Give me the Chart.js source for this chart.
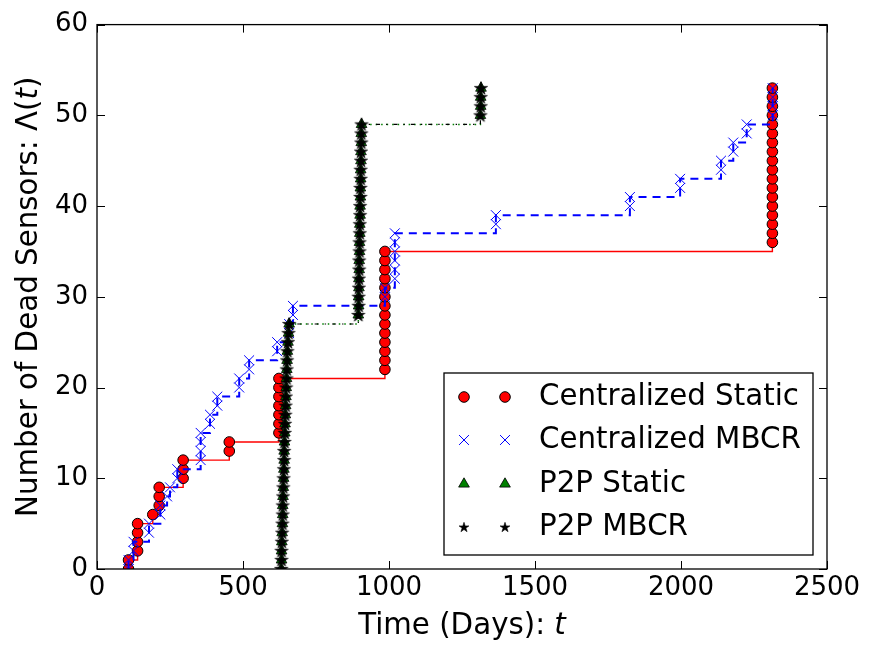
<!DOCTYPE html>
<html>
<head>
<meta charset="utf-8">
<script src="https://cdn.jsdelivr.net/npm/chart.js@4.4.1/dist/chart.umd.min.js"></script>
<style>
  html, body { margin: 0; padding: 0; background: #fff; }
  canvas { display: block; }
</style>
</head>
<body>
<canvas id="deadSensors" width="871" height="648"></canvas>
<script>
// Data
var deadCount = [0, 1, 2, 3, 4, 5, 6, 7, 8, 9, 10, 11, 12, 13, 14, 15, 16, 17,
    18, 19, 20, 21, 22, 23, 24, 25, 26, 27, 28, 29, 30, 31, 32, 33, 34, 35,
    36, 37, 38, 39, 40, 41, 42, 43, 44, 45, 46, 47, 48, 49, 50, 51, 52, 53];

var centralStaticDays = [108, 108, 139, 139, 139, 139, 191, 213, 213, 213,
    295, 295, 295, 453, 453, 623, 623, 623, 623, 623, 623, 623,
    986, 986, 986, 986, 986, 986, 986, 986, 986, 986, 986, 986, 986, 986,
    2313, 2313, 2313, 2313, 2313, 2313, 2313, 2313, 2313, 2313, 2313, 2313,
    2313, 2313, 2313, 2313, 2313, 2313];

var centralMbcrDays = [108, 108, 125, 125, 178, 178, 217, 217, 240, 250,
    275, 275, 355, 355, 355, 355, 387, 387, 412, 412, 487, 487, 521, 521,
    617, 617, 658, 658, 671, 671, 986, 986, 1020, 1020, 1020, 1020, 1020, 1020,
    1366, 1366, 1825, 1825, 1997, 1997, 2137, 2137, 2179, 2179, 2225, 2225,
    2314, 2314, 2314, 2314];

var p2pStaticDays = [631, 632, 632, 633, 634, 635, 636, 636, 637, 638, 639,
    640, 641, 641, 642, 643, 644, 645, 646, 647, 648, 649, 650, 651, 652,
    654, 656, 658,
    895, 896, 896, 897, 897, 898, 898, 899, 899, 900, 900, 901, 901, 902,
    902, 903, 903, 904, 904, 905, 905, 906,
    1313, 1314, 1314, 1315];

var p2pMbcrDays = [631, 632, 632, 633, 634, 635, 636, 636, 637, 638, 639,
    640, 641, 641, 642, 643, 644, 645, 646, 647, 648, 649, 650, 651, 652,
    654, 656, 658,
    895, 896, 896, 897, 897, 898, 898, 899, 899, 900, 900, 901, 901, 902,
    902, 903, 903, 904, 904, 905, 905, 906,
    1313, 1314, 1314, 1315];

var xTickValues = [0, 500, 1000, 1500, 2000, 2500];
var yTickValues = [0, 10, 20, 30, 40, 50, 60];

var seriesNames = ['Centralized Static', 'Centralized MBCR', 'P2P Static', 'P2P MBCR'];

(function() {
    'use strict';

    var FONT = 'DejaVu Sans';

    function toPoints(days) {
        return days.map(function(d, i) { return { x: d, y: deadCount[i] }; });
    }

    // filled five point star like matplotlib '*'
    function makeStar(r) {
        var size = Math.ceil(r) * 2 + 2;
        var c = document.createElement('canvas');
        c.width = size;
        c.height = size;
        var g = c.getContext('2d');
        var cx = size / 2, cy = size / 2 + 0.5, inner = r * 0.382;
        g.beginPath();
        for (var k = 0; k < 10; k++) {
            var rr = k % 2 === 0 ? r : inner;
            var a = -Math.PI / 2 + k * Math.PI / 5;
            var px = cx + rr * Math.cos(a), py = cy + rr * Math.sin(a);
            if (k === 0) g.moveTo(px, py); else g.lineTo(px, py);
        }
        g.closePath();
        g.fillStyle = '#000';
        g.fill();
        g.strokeStyle = '#000';
        g.lineWidth = 0.6;
        g.stroke();
        return c;
    }

    var starPlot = makeStar(7);
    var starLegend = makeStar(5.2);

    var markerStyles = [
        { pointStyle: 'circle', radius: 5.3, fill: '#ff0000', stroke: '#000', width: 1 },
        { pointStyle: 'crossRot', radius: 7, fill: '#0000ff', stroke: '#0000ff', width: 1 },
        { pointStyle: 'triangle', radius: 6.2, fill: '#008000', stroke: '#000', width: 0.8 },
        { pointStyle: starPlot, legendStyle: starLegend, radius: 7, fill: '#000', stroke: '#000', width: 0 }
    ];

    function markerSet(label, days, m, order) {
        return {
            label: label,
            data: toPoints(days),
            showLine: false,
            pointStyle: m.pointStyle,
            pointRadius: m.radius,
            pointBackgroundColor: m.fill,
            pointBorderColor: m.stroke,
            pointBorderWidth: m.width,
            clip: 0,
            order: order
        };
    }

    function stepSet(days, color, width, dash, order) {
        return {
            label: '',
            data: toPoints(days),
            showLine: true,
            stepped: 'before',
            borderColor: color,
            borderWidth: width,
            borderDash: dash,
            pointRadius: 0,
            fill: false,
            clip: 0,
            order: order
        };
    }

    // frame, inward ticks, axis titles and legend
    var decorations = {
        id: 'decorations',
        afterDatasetsDraw: function(chart) {
            var ctx = chart.ctx, a = chart.chartArea;
            var xs = chart.scales.x, ys = chart.scales.y;
            ctx.save();
            ctx.strokeStyle = '#000';
            ctx.lineWidth = 1;
            ctx.beginPath();
            xTickValues.forEach(function(v) {
                var px = Math.round(xs.getPixelForValue(v)) + 0.5;
                ctx.moveTo(px, a.bottom); ctx.lineTo(px, a.bottom - 8);
                ctx.moveTo(px, a.top); ctx.lineTo(px, a.top + 8);
            });
            yTickValues.forEach(function(v) {
                var py = Math.round(ys.getPixelForValue(v)) + 0.5;
                ctx.moveTo(a.left, py); ctx.lineTo(a.left + 8, py);
                ctx.moveTo(a.right, py); ctx.lineTo(a.right - 8, py);
            });
            ctx.stroke();
            ctx.lineWidth = 1.3;
            ctx.strokeRect(a.left, a.top, a.right - a.left, a.bottom - a.top);
            ctx.restore();
        },
        afterDraw: function(chart) {
            var ctx = chart.ctx, a = chart.chartArea;
            ctx.save();
            ctx.fillStyle = '#000';
            ctx.textBaseline = 'middle';

            // x title
            var normal = '29.3px "' + FONT + '"', italic = 'oblique 29.3px "' + FONT + '"';
            ctx.font = normal;
            var s1 = 'Time (Days): ';
            var w1 = ctx.measureText(s1).width;
            ctx.font = italic;
            var w2 = ctx.measureText('t').width;
            var x0 = (a.left + a.right) / 2 - (w1 + w2) / 2;
            ctx.font = normal;
            ctx.textAlign = 'left';
            ctx.fillText(s1, x0, 626);
            ctx.font = italic;
            ctx.fillText('t', x0 + w1, 626);

            // y title, rotated
            ctx.save();
            ctx.translate(29, (a.top + a.bottom) / 2);
            ctx.rotate(-Math.PI / 2);
            var p1 = 'Number of Dead Sensors: \u039B(', p3 = ')';
            ctx.font = normal;
            var q1 = ctx.measureText(p1).width, q3 = ctx.measureText(p3).width;
            ctx.font = italic;
            var q2 = ctx.measureText('t').width;
            var y0 = -(q1 + q2 + q3) / 2;
            ctx.font = normal;
            ctx.fillText(p1, y0, 0);
            ctx.font = italic;
            ctx.fillText('t', y0 + q1, 0);
            ctx.font = normal;
            ctx.fillText(p3, y0 + q1 + q2, 0);
            ctx.restore();

            // legend
            var box = { left: 444, top: 373, right: 813, bottom: 555 };
            ctx.fillStyle = '#fff';
            ctx.fillRect(box.left, box.top, box.right - box.left, box.bottom - box.top);
            ctx.strokeStyle = '#000';
            ctx.lineWidth = 1.3;
            ctx.strokeRect(box.left, box.top, box.right - box.left, box.bottom - box.top);
            var rows = [397, 440, 484, 527];
            seriesNames.forEach(function(name, i) {
                var m = markerStyles[i];
                [464, 505].forEach(function(mx) {
                    ctx.fillStyle = m.fill;
                    ctx.strokeStyle = m.stroke;
                    ctx.lineWidth = m.width;
                    Chart.helpers.drawPoint(ctx, {
                        pointStyle: m.legendStyle || m.pointStyle,
                        radius: m.radius,
                        rotation: 0,
                        borderWidth: m.width
                    }, mx, rows[i]);
                });
                ctx.fillStyle = '#000';
                ctx.font = normal;
                ctx.textAlign = 'left';
                ctx.fillText(name, 539, rows[i]);
            });
            ctx.restore();
        }
    };

    var tickFont = { family: FONT, size: 26 };

    new Chart(document.getElementById('deadSensors'), {
        type: 'scatter',
        data: {
            datasets: [
                stepSet(centralStaticDays, '#ff0000', 1.4, [], 8),
                markerSet(seriesNames[0], centralStaticDays, markerStyles[0], 7),
                stepSet(centralMbcrDays, '#0000ff', 2, [8, 6], 6),
                markerSet(seriesNames[1], centralMbcrDays, markerStyles[1], 5),
                stepSet(p2pStaticDays, '#008000', 1.5, [1.5, 4], 4),
                markerSet(seriesNames[2], p2pStaticDays, markerStyles[2], 3),
                stepSet(p2pMbcrDays, '#000000', 1.2, [4, 6, 1.4, 6], 2),
                markerSet(seriesNames[3], p2pMbcrDays, markerStyles[3], 1)
            ]
        },
        options: {
            responsive: false,
            animation: false,
            devicePixelRatio: 1,
            layout: { padding: { left: 0, top: 20, right: 44, bottom: 0 } },
            plugins: {
                legend: { display: false },
                tooltip: { enabled: false }
            },
            scales: {
                x: {
                    type: 'linear',
                    min: 0,
                    max: 2500,
                    afterBuildTicks: function(s) {
                        s.ticks = xTickValues.map(function(v) { return { value: v }; });
                    },
                    afterFit: function(s) { s.height = 79; },
                    ticks: {
                        font: tickFont,
                        color: '#000',
                        padding: 4,
                        maxRotation: 0,
                        autoSkip: false,
                        callback: function(v) { return String(v); }
                    },
                    grid: { display: false, drawTicks: false },
                    border: { display: false }
                },
                y: {
                    type: 'linear',
                    min: 0,
                    max: 60,
                    afterBuildTicks: function(s) {
                        s.ticks = yTickValues.map(function(v) { return { value: v }; });
                    },
                    afterFit: function(s) { s.width = 97; },
                    ticks: {
                        font: tickFont,
                        color: '#000',
                        padding: 9,
                        autoSkip: false,
                        callback: function(v) { return String(v); }
                    },
                    grid: { display: false, drawTicks: false },
                    border: { display: false }
                }
            }
        },
        plugins: [decorations]
    });
})();
</script>
</body>
</html>
